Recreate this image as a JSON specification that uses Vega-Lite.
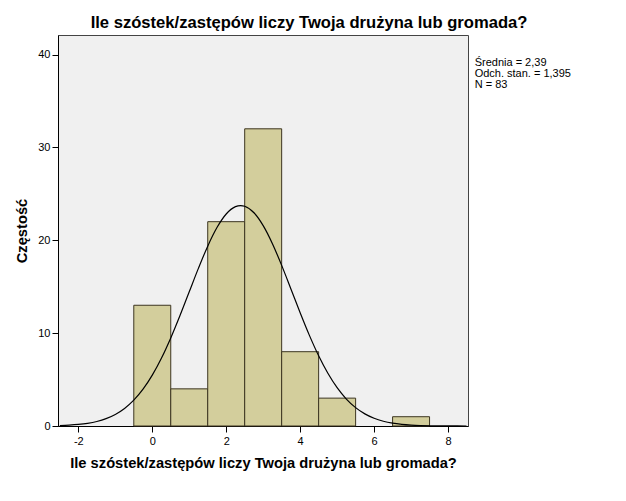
{
  "$schema": "https://vega.github.io/schema/vega-lite/v6.json",
  "autosize": "none",
  "width": 410,
  "height": 391,
  "padding": {"left": 58, "top": 35, "right": 158, "bottom": 75},
  "background": "#ffffff",
  "config": {
    "font": "Liberation Sans",
    "view": {"fill": "#f0f0f0", "stroke": "#444444", "strokeWidth": 1},
    "axis": {
      "grid": false,
      "domainColor": "#000000",
      "tickColor": "#000000",
      "tickSize": 6,
      "labelColor": "#000000",
      "labelFont": "Liberation Sans",
      "labelFontSize": 11,
      "titleFont": "Liberation Sans",
      "titleFontSize": 14.7,
      "titleFontWeight": "bold",
      "titleColor": "#000000"
    }
  },
  "title": {
    "text": "Ile szóstek/zastępów liczy Twoja drużyna lub gromada?",
    "font": "Liberation Sans",
    "fontSize": 16.6,
    "fontWeight": "bold",
    "color": "#000000",
    "anchor": "middle",
    "dx": 46,
    "baseline": "alphabetic",
    "offset": -10
  },
  "datasets": {
    "bins": [
      {"start": -0.5, "end": 0.5, "count": 13},
      {"start": 0.5, "end": 1.5, "count": 4},
      {"start": 1.5, "end": 2.5, "count": 22},
      {"start": 2.5, "end": 3.5, "count": 32},
      {"start": 3.5, "end": 4.5, "count": 8},
      {"start": 4.5, "end": 5.5, "count": 3},
      {"start": 6.5, "end": 7.5, "count": 1}
    ],
    "curve": [
      {"x": -2.5, "y": 0.051}, {"x": -2.25, "y": 0.094}, {"x": -2.0, "y": 0.168},
      {"x": -1.75, "y": 0.291}, {"x": -1.5, "y": 0.486}, {"x": -1.25, "y": 0.789},
      {"x": -1.0, "y": 1.239}, {"x": -0.75, "y": 1.885}, {"x": -0.5, "y": 2.777},
      {"x": -0.25, "y": 3.96}, {"x": 0.0, "y": 5.472}, {"x": 0.25, "y": 7.318},
      {"x": 0.5, "y": 9.481}, {"x": 0.75, "y": 11.893}, {"x": 1.0, "y": 14.449},
      {"x": 1.25, "y": 16.998}, {"x": 1.5, "y": 19.367}, {"x": 1.75, "y": 21.366},
      {"x": 2.0, "y": 22.828}, {"x": 2.25, "y": 23.618}, {"x": 2.39, "y": 23.737},
      {"x": 2.5, "y": 23.663}, {"x": 2.75, "y": 22.96}, {"x": 3.0, "y": 21.573},
      {"x": 3.25, "y": 19.629}, {"x": 3.5, "y": 17.296}, {"x": 3.75, "y": 14.759},
      {"x": 4.0, "y": 12.195}, {"x": 4.25, "y": 9.759}, {"x": 4.5, "y": 7.562},
      {"x": 4.75, "y": 5.675}, {"x": 5.0, "y": 4.124}, {"x": 5.25, "y": 2.903},
      {"x": 5.5, "y": 1.978}, {"x": 5.75, "y": 1.305}, {"x": 6.0, "y": 0.834},
      {"x": 6.25, "y": 0.516}, {"x": 6.5, "y": 0.309}, {"x": 6.75, "y": 0.18},
      {"x": 7.0, "y": 0.101}, {"x": 7.25, "y": 0.055}, {"x": 7.5, "y": 0.029},
      {"x": 7.75, "y": 0.015}, {"x": 8.0, "y": 0.007}, {"x": 8.25, "y": 0.004},
      {"x": 8.5, "y": 0.002}
    ],
    "stats": [
      {"label": "Średnia = 2,39\nOdch. stan. = 1,395\nN = 83"}
    ]
  },
  "layer": [
    {
      "data": {"name": "bins"},
      "mark": {"type": "rect", "fill": "#d3ce9c", "stroke": "#3c3520", "strokeWidth": 1},
      "encoding": {
        "x": {
          "field": "start",
          "type": "quantitative",
          "scale": {"domain": [-2.55, 8.54], "nice": false, "zero": false},
          "axis": {
            "values": [-2, 0, 2, 4, 6, 8],
            "labelExpr": "'' + datum.value",
            "labelPadding": 3,
            "titleY": 41,
            "titleBaseline": "alphabetic"
          },
          "title": "Ile szóstek/zastępów liczy Twoja drużyna lub gromada?"
        },
        "x2": {"field": "end"},
        "y": {
          "field": "count",
          "type": "quantitative",
          "scale": {"domain": [0, 42.1], "nice": false},
          "axis": {
            "values": [0, 10, 20, 30, 40],
            "labelPadding": 2,
            "titleX": -31.5,
            "titleBaseline": "alphabetic"
          },
          "title": "Częstość"
        },
        "y2": {"datum": 0}
      }
    },
    {
      "data": {"name": "curve"},
      "mark": {"type": "line", "color": "#000000", "strokeWidth": 1.2, "interpolate": "monotone"},
      "encoding": {
        "x": {"field": "x", "type": "quantitative"},
        "y": {"field": "y", "type": "quantitative"}
      }
    },
    {
      "data": {"name": "stats"},
      "mark": {
        "type": "text",
        "align": "left",
        "baseline": "alphabetic",
        "lineBreak": "\n",
        "lineHeight": 11,
        "fontSize": 11,
        "font": "Liberation Sans",
        "color": "#000000",
        "clip": false
      },
      "encoding": {
        "x": {"datum": 8.72},
        "y": {"datum": 38.8},
        "text": {"field": "label"}
      }
    }
  ]
}
